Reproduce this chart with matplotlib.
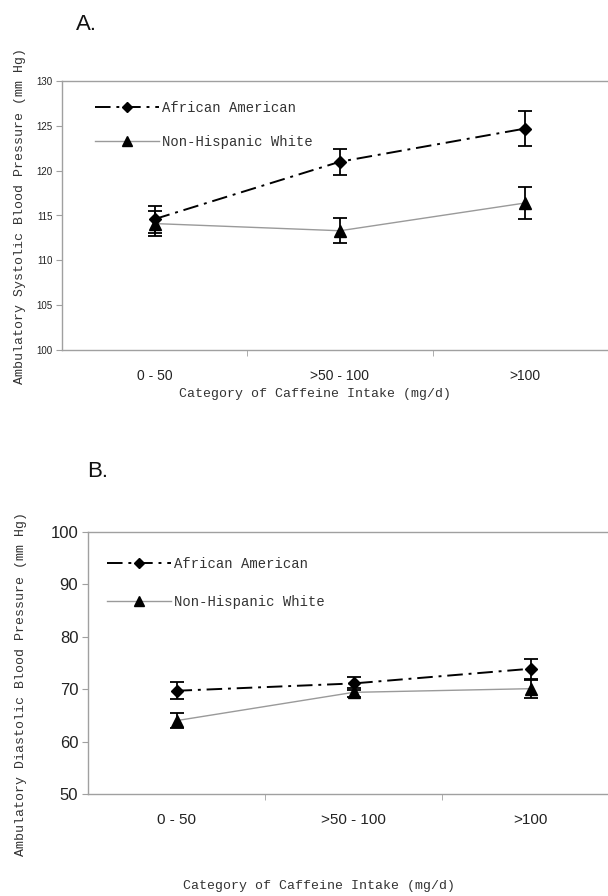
import matplotlib
matplotlib.use("Agg")
from matplotlib import pyplot as plt
import numpy as np

categories = ["0 - 50", ">50 - 100", ">100"]
series_names = ["African American", "Non-Hispanic White"]

# panel A, systolic
sys_aa = [114.6, 121.0, 124.7]
sys_aa_err = [1.5, 1.45, 1.9]
sys_nhw = [114.1, 113.3, 116.4]
sys_nhw_err = [1.4, 1.4, 1.8]

# panel B, diastolic
dia_aa = [69.7, 71.1, 73.9]
dia_aa_err = [1.6, 1.2, 1.9]
dia_nhw = [64.0, 69.4, 70.1]
dia_nhw_err = [1.4, 0.9, 1.7]

LABEL_FONT = "Liberation Mono"
TICK_FONT = "Liberation Sans"
TEXT_COL = "#333333"
SPINE_COL = "#a0a0a0"
AA_DASH = (0, (8, 3, 1.5, 3))


def draw_panel(ax, aa, aa_err, nhw, nhw_err, ylim, yticks, ytick_size, cat_size,
               ylabel, legend_anchor, legend_spacing):
    x = np.arange(len(categories))
    # lines first (these carry the legend labels)
    ax.plot(x, aa, color="black", linestyle=AA_DASH, linewidth=1.4, marker="D",
            markersize=6, label=series_names[0], zorder=3)
    ax.plot(x, nhw, color="#9a9a9a", linewidth=1.0, marker="^", markersize=9,
            markerfacecolor="black", markeredgecolor="black",
            label=series_names[1], zorder=3)
    # error bars
    ax.errorbar(x, aa, yerr=aa_err, fmt="none", ecolor="black", elinewidth=1.3,
                capsize=5, capthick=1.3, zorder=4)
    ax.errorbar(x, nhw, yerr=nhw_err, fmt="none", ecolor="black", elinewidth=1.3,
                capsize=5, capthick=1.3, zorder=4)

    ax.set_xlim(-0.5, 2.5)
    ax.set_ylim(*ylim)
    ax.set_yticks(yticks)
    ax.set_xticks(x)
    ax.set_xticklabels(categories)
    ax.set_xticks([0.5, 1.5], minor=True)
    ax.tick_params(axis="x", which="major", length=0, pad=14, labelsize=cat_size,
                   labelcolor="#222222")
    ax.tick_params(axis="x", which="minor", length=4, color=SPINE_COL)
    ax.tick_params(axis="y", length=4, color=SPINE_COL, labelsize=ytick_size,
                   labelcolor="#222222", pad=3)
    for lab in ax.get_xticklabels() + ax.get_yticklabels():
        lab.set_fontfamily(TICK_FONT)

    for side in ["left", "bottom", "top", "right"]:
        ax.spines[side].set_color(SPINE_COL)
        ax.spines[side].set_linewidth(1.0)

    ax.set_ylabel(ylabel, fontfamily=LABEL_FONT, fontsize=9.5, color=TEXT_COL)
    ax.set_xlabel("Category of Caffeine Intake (mg/d)", fontfamily=LABEL_FONT,
                  fontsize=9.5, color=TEXT_COL)

    leg = ax.legend(loc="upper left", bbox_to_anchor=legend_anchor,
                    frameon=False, handlelength=4.6, handletextpad=0.2,
                    borderpad=0, borderaxespad=0, labelspacing=legend_spacing,
                    markerscale=0.8, prop={"family": LABEL_FONT, "size": 10})
    for t in leg.get_texts():
        t.set_color(TEXT_COL)
    return ax


fig = plt.figure(figsize=(6.08, 8.96), dpi=100)

ax_a = fig.add_axes([62 / 608, 1 - 350 / 896, 556 / 608, 269 / 896])
draw_panel(ax_a, sys_aa, sys_aa_err, sys_nhw, sys_nhw_err, (100, 130),
           [100, 105, 110, 115, 120, 125, 130], 7, 10,
           "Ambulatory Systolic Blood Pressure (mm Hg)", (0.06, 0.925), 1.45)
ax_a.xaxis.set_label_coords(0.455, -0.14)
ax_a.yaxis.set_label_coords(-0.065, 0.5)

ax_b = fig.add_axes([88 / 608, 1 - 794 / 896, 531 / 608, 262 / 896])
draw_panel(ax_b, dia_aa, dia_aa_err, dia_nhw, dia_nhw_err, (50, 100),
           [50, 60, 70, 80, 90, 100], 12, 11,
           "Ambulatory Diastolic Blood Pressure (mm Hg)", (0.036, 0.905), 1.75)
ax_b.xaxis.set_label_coords(0.435, -0.33)
ax_b.yaxis.set_label_coords(-0.115, 0.42)

fig.text(76 / 608, 1 - 24 / 896, "A.", fontsize=16, fontfamily=TICK_FONT,
         va="center", ha="left", color="#111111")
fig.text(87 / 608, 1 - 471 / 896, "B.", fontsize=16, fontfamily=TICK_FONT,
         va="center", ha="left", color="#111111")

fig.savefig("out.png", dpi=100)
